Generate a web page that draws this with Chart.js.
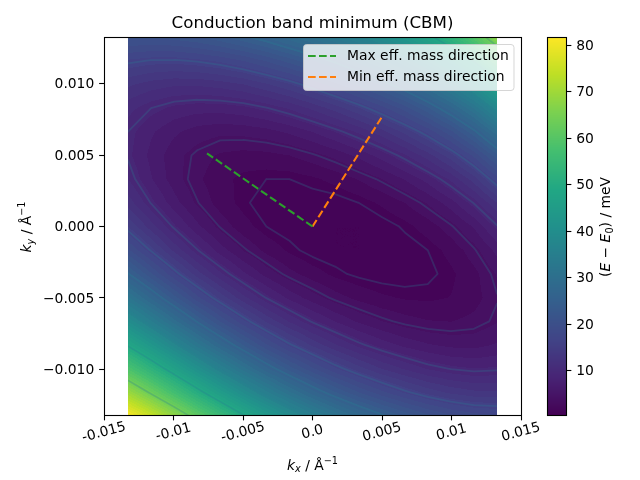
<!DOCTYPE html>
<html><head><meta charset="utf-8">
<style>html,body{margin:0;padding:0;background:#fff}canvas{display:block}</style>
<script src="https://cdn.jsdelivr.net/npm/chart.js@4"></script></head>
<body><canvas id="c" width="640" height="480"></canvas>
<script>
const kxGrid=[-0.01327,-0.01161,-0.00995,-0.00829,-0.00664,-0.00498,-0.00332,-0.00166,0,0.00166,0.00332,0.00498,0.00664,0.00829,0.00995,0.01161,0.01327];
const kyGrid=[0.01327,0.01161,0.00995,0.00829,0.00664,0.00498,0.00332,0.00166,0,-0.00166,-0.00332,-0.00498,-0.00664,-0.00829,-0.00995,-0.01161,-0.01327];
const energyGrid=[
[21.1,21.0,21.3,22.0,23.1,24.6,26.3,28.4,30.7,33.3,36.2,39.5,43.3,47.7,53.1,59.8,68.2],
[16.4,15.9,15.8,16.2,16.9,18.0,19.5,21.3,23.3,25.6,28.2,31.1,34.5,38.5,43.4,49.4,56.9],
[12.8,11.9,11.4,11.4,11.8,12.5,13.7,15.1,16.9,18.9,21.2,23.8,26.8,30.3,34.6,40.0,46.8],
[10.3,9.0,8.1,7.7,7.7,8.1,8.9,10.0,11.5,13.2,15.1,17.4,20.0,23.2,27.0,31.7,37.8],
[9.0,7.3,6.0,5.1,4.7,4.8,5.2,6.0,7.1,8.5,10.1,12.0,14.3,17.0,20.3,24.5,29.9],
[8.8,6.7,4.9,3.7,2.8,2.5,2.6,3.0,3.8,4.8,6.1,7.7,9.6,11.9,14.7,18.3,23.0],
[9.8,7.2,5.0,3.3,2.1,1.3,1.0,1.0,1.4,2.1,3.1,4.3,5.8,7.7,10.1,13.2,17.3],
[11.9,8.9,6.3,4.1,2.4,1.2,0.5,0.4,0.4,0.4,1.0,1.9,3.0,4.5,6.5,9.1,12.5],
[15.2,11.8,8.7,6.1,3.9,2.2,1.0,0.4,0.3,0.3,0.3,0.4,1.2,2.3,3.8,5.9,8.8],
[19.6,15.8,12.2,9.1,6.4,4.3,2.6,1.4,0.5,0.3,0.3,0.3,0.4,1.0,2.1,3.8,6.2],
[25.2,20.9,16.8,13.2,10.1,7.4,5.2,3.5,2.3,1.3,0.7,0.4,0.4,0.7,1.4,2.6,4.5],
[31.8,27.1,22.6,18.4,14.8,11.6,8.9,6.7,5.0,3.6,2.6,1.9,1.5,1.4,1.7,2.5,3.9],
[39.6,34.4,29.4,24.8,20.6,16.9,13.7,11.0,8.8,7.0,5.5,4.4,3.6,3.1,3.0,3.4,4.3],
[48.4,42.9,37.4,32.2,27.5,23.3,19.5,16.3,13.6,11.3,9.4,7.9,6.7,5.9,5.4,5.3,5.9],
[58.4,52.4,46.5,40.8,35.6,30.8,26.5,22.8,19.6,16.8,14.5,12.5,11.0,9.7,8.9,8.5,8.7],
[69.6,63.2,56.8,50.6,44.8,39.5,34.7,30.5,26.7,23.5,20.7,18.4,16.4,14.8,13.6,12.9,12.8],
[81.7,75.2,68.4,61.7,55.4,49.5,44.2,39.4,35.2,31.5,28.2,25.5,23.2,21.2,19.7,18.7,18.3]];
const contourLevels=[1,4,9,16,25,36,49,64];
const bandCount=60;
const maxDirX=[0,-0.00759],maxDirY=[0,0.00512];
const minDirX=[0,0.0050],minDirY=[0,0.00768];
const xTickValues=[-0.015,-0.01,-0.005,0,0.005,0.01,0.015];
const xTickLabels=['-0.015','-0.01','-0.005','0.0','0.005','0.01','0.015'];
const yTickValues=[-0.01,-0.005,0,0.005,0.01];
const yTickLabels=['\u22120.010','\u22120.005','0.000','0.005','0.010'];
const cbTickValues=[10,20,30,40,50,60,70,80];
const seriesLabels=['Max eff. mass direction','Min eff. mass direction'];
const titleText='Conduction band minimum (CBM)';
const viridis=[[68,1,84],[72,36,117],[65,68,135],[53,95,141],[42,120,142],[33,145,140],[34,168,132],[68,191,112],[122,209,81],[189,223,38],[253,231,37]];
const cbMin=0.3,cbMax=81.7;
const FF='"DejaVu Sans"';
Chart.defaults.font.family=FF;
function cmap(t){t=Math.max(0,Math.min(1,t))*10;const i=Math.min(9,Math.floor(t)),f=t-i,a=viridis[i],b=viridis[i+1];
 return [a[0]+(b[0]-a[0])*f,a[1]+(b[1]-a[1])*f,a[2]+(b[2]-a[2])*f];}
function bandColor(e){const w=(cbMax-cbMin)/bandCount;const q=Math.floor((e-cbMin)/w)+0.5;return cmap(q/bandCount);}
function sample(kx,ky){
 const dx=kxGrid[1]-kxGrid[0],dy=kyGrid[1]-kyGrid[0];
 let u=(kx-kxGrid[0])/dx,v=(ky-kyGrid[0])/dy;
 const n=kxGrid.length-1;u=Math.max(0,Math.min(n,u));v=Math.max(0,Math.min(n,v));
 const i=Math.min(n-1,Math.floor(u)),j=Math.min(n-1,Math.floor(v)),f=u-i,g=v-j;
 const R=energyGrid;return R[j][i]*(1-f)*(1-g)+R[j][i+1]*f*(1-g)+R[j+1][i]*(1-f)*g+R[j+1][i+1]*f*g;}
function drawMath(ctx,runs,cx,cy,rot,size){
 ctx.save();ctx.translate(cx,cy);ctx.rotate(rot);ctx.textBaseline='alphabetic';ctx.textAlign='left';ctx.fillStyle='#000';
 const fontOf=r=>(r.it?'italic ':'')+((r.sub||r.sup)?size*0.7:size)+'px '+FF;
 let w=0;for(const r of runs){ctx.font=fontOf(r);w+=ctx.measureText(r.t).width;}
 let x=-w/2;for(const r of runs){ctx.font=fontOf(r);const dy=r.sub?size*0.2:r.sup?-size*0.42:0;ctx.fillText(r.t,x,size*0.36+dy);x+=ctx.measureText(r.t).width;}
 ctx.restore();}
const plot={id:'plot',
 afterLayout(chart){chart.scales.cb.left=566.5;chart.scales.cb.right=640;},
 beforeDatasetsDraw(chart){
  const {ctx,scales:{x,y}}=chart;
  const x0=Math.floor(x.getPixelForValue(kxGrid[0])),x1=Math.round(x.getPixelForValue(kxGrid[16]));
  const y0=Math.floor(y.top),y1=Math.ceil(y.bottom),w=x1-x0,h=y1-y0;
  const off=document.createElement('canvas');off.width=w;off.height=h;const oc=off.getContext('2d');
  const im=oc.createImageData(w,h);
  for(let r=0;r<h;r++){const ky=y.getValueForPixel(y0+r+0.5);
   for(let c=0;c<w;c++){const kx=x.getValueForPixel(x0+c+0.5);const col=bandColor(sample(kx,ky));
    const p=(r*w+c)*4;im.data[p]=col[0];im.data[p+1]=col[1];im.data[p+2]=col[2];im.data[p+3]=255;}}
  oc.putImageData(im,0,0);ctx.drawImage(off,x0,y0);
  // contour lines by marching squares over the grid
  ctx.save();ctx.beginPath();ctx.rect(x0,y0,w,h);ctx.clip();
  const n=kxGrid.length-1,R=energyGrid;
  const px=i=>x.getPixelForValue(kxGrid[i]),py=j=>y.getPixelForValue(kyGrid[j]);
  for(const L of contourLevels){
   const off2=document.createElement('canvas');off2.width=640;off2.height=480;const g=off2.getContext('2d');
   g.strokeStyle='rgb(40,125,145)';g.lineWidth=1.8;g.lineCap='round';g.lineJoin='round';g.beginPath();
   for(let j=0;j<n;j++)for(let i=0;i<n;i++){
    const a=R[j][i],b=R[j][i+1],c=R[j+1][i+1],d=R[j+1][i],pts=[];
    const cross=(p,q)=>(p<L)!==(q<L);const t=(p,q)=>(L-p)/(q-p);
    if(cross(a,b))pts.push([px(i)+(px(i+1)-px(i))*t(a,b),py(j)]);
    if(cross(b,c))pts.push([px(i+1),py(j)+(py(j+1)-py(j))*t(b,c)]);
    if(cross(d,c))pts.push([px(i)+(px(i+1)-px(i))*t(d,c),py(j+1)]);
    if(cross(a,d))pts.push([px(i),py(j)+(py(j+1)-py(j))*t(a,d)]);
    for(let k=0;k+1<pts.length;k+=2){g.moveTo(pts[k][0],pts[k][1]);g.lineTo(pts[k+1][0],pts[k+1][1]);}
   }
   g.stroke();ctx.globalAlpha=0.27;ctx.drawImage(off2,0,0);ctx.globalAlpha=1;}
  ctx.restore();
 },
 afterDatasetsDraw(chart){
  const {ctx,chartArea:a,scales:{cb}}=chart;
  // axes frame
  ctx.save();ctx.strokeStyle='#000';ctx.lineWidth=1.1;ctx.strokeRect(a.left+0.5,a.top,a.right-a.left,a.bottom-a.top);
  // colour bar
  const bx=548,bw=18.5,top=cb.getPixelForValue(cbMax),bot=cb.getPixelForValue(cbMin);
  for(let py=Math.floor(top);py<bot;py++){const v=cb.getValueForPixel(py+0.5);const c=cmap((v-cbMin)/(cbMax-cbMin));
   ctx.fillStyle=`rgb(${c[0]|0},${c[1]|0},${c[2]|0})`;ctx.fillRect(bx,py,bw,1);}
  ctx.strokeRect(bx-0.5,top,bw+0.5,bot-top);
  // legend
  const lx=303.5,ly=44.5,lw=210.5,lh=46;
  ctx.beginPath();ctx.roundRect(lx,ly,lw,lh,3);ctx.fillStyle='rgba(255,255,255,0.8)';ctx.fill();ctx.strokeStyle='rgba(204,204,204,0.8)';ctx.lineWidth=1;ctx.stroke();
  chart.data.datasets.forEach((ds,i)=>{const yy=56+i*21;
   ctx.beginPath();ctx.setLineDash(ds.borderDash);ctx.strokeStyle=ds.borderColor;ctx.lineWidth=ds.borderWidth;ctx.moveTo(308,yy);ctx.lineTo(336,yy);ctx.stroke();ctx.setLineDash([]);
   ctx.fillStyle='#000';ctx.font='13.89px '+FF;ctx.textBaseline='middle';ctx.textAlign='left';ctx.fillText(ds.label,347,yy+0.5);});
  ctx.restore();
  drawMath(ctx,[{t:'k',it:1},{t:'x',it:1,sub:1},{t:' / \u00c5'},{t:'\u22121',sup:1}],312.5,464.5,0,13.89);
  drawMath(ctx,[{t:'k',it:1},{t:'y',it:1,sub:1},{t:' / \u00c5'},{t:'\u22121',sup:1}],26,227,-Math.PI/2,13.89);
  drawMath(ctx,[{t:'('},{t:'E',it:1},{t:' \u2212 '},{t:'E',it:1},{t:'0',sub:1},{t:') / meV'}],605,227,-Math.PI/2,13.89);
 }};
const tickFont={size:13.89,family:FF};
const gridCfg={drawOnChartArea:false,drawTicks:true,tickLength:4.86,tickColor:'#000',tickWidth:1.1};
new Chart(document.getElementById('c'),{
 type:'scatter',
 data:{datasets:[
  {label:seriesLabels[0],data:maxDirX.map((v,i)=>({x:v,y:maxDirY[i]})),showLine:true,borderColor:'#2ca02c',borderWidth:2.08,borderDash:[7.7,3.3],pointRadius:0,backgroundColor:'#2ca02c'},
  {label:seriesLabels[1],data:minDirX.map((v,i)=>({x:v,y:minDirY[i]})),showLine:true,borderColor:'#ff7f0e',borderWidth:2.08,borderDash:[7.7,3.3],pointRadius:0,backgroundColor:'#ff7f0e'}]},
 options:{responsive:false,animation:false,devicePixelRatio:1,layout:{padding:0},
  plugins:{legend:{display:false},tooltip:{enabled:false},
   title:{display:true,text:titleText,color:'#000',fullSize:false,font:{size:16.67,weight:'normal',family:FF,lineHeight:1.2},padding:{top:14,bottom:3.5}}},
  scales:{
   x:{type:'linear',min:-0.015,max:0.015,position:'bottom',grid:gridCfg,border:{display:false},
    afterBuildTicks(s){s.ticks=xTickValues.map(v=>({value:v}));},
    afterFit(s){s.height=64.5;s._getXAxisLabelAlignment=()=>'center';},
    ticks:{autoSkip:false,minRotation:15,maxRotation:15,color:'#000',font:tickFont,padding:4,callback:(v,i)=>xTickLabels[i]}},
   y:{type:'linear',min:-0.01323,max:0.01323,position:'left',grid:gridCfg,border:{display:false},
    afterBuildTicks(s){s.ticks=yTickValues.map(v=>({value:v}));},
    afterFit(s){s.width=104;},
    ticks:{autoSkip:false,color:'#000',font:tickFont,padding:4.86,labelOffset:1,callback:(v,i)=>yTickLabels[i]}},
   cb:{type:'linear',min:cbMin,max:cbMax,position:'right',grid:gridCfg,border:{display:false},
    afterBuildTicks(s){s.ticks=cbTickValues.map(v=>({value:v}));},
    afterFit(s){s.width=119;},
    ticks:{autoSkip:false,color:'#000',font:tickFont,padding:4.86,labelOffset:1,callback:(v,i)=>String(cbTickValues[i])}}
  }},
 plugins:[plot]});
</script></body></html>
